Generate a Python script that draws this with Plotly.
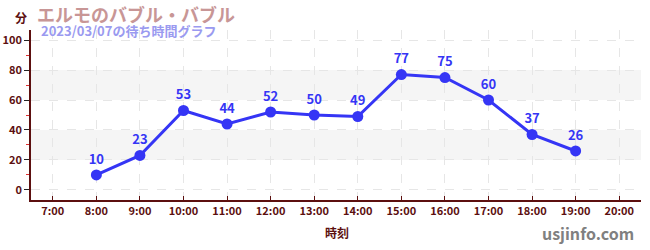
import plotly.graph_objects as go

hours = [8, 9, 10, 11, 12, 13, 14, 15, 16, 17, 18, 19]
waits = [10, 23, 53, 44, 52, 50, 49, 77, 75, 60, 37, 26]
tick_hours = list(range(7, 21))
tick_labels = [f"{h}:00" for h in tick_hours]
title_text = "エルモのバブル・バブル"
subtitle_text = "2023/03/07の待ち時間グラフ"
bands = [(20, 40), (60, 80)]

FONT = "Noto Sans CJK JP"
AXC = "#5c0f0f"
BLUE = "#3535f5"
PW, PH = 610, 170

fig = go.Figure()
fig.add_trace(go.Scatter(
    x=hours, y=waits, mode="lines+markers+text",
    text=[str(v) for v in waits], textposition="top center",
    textfont=dict(family=FONT, size=13, color=BLUE, weight="bold"),
    line=dict(color=BLUE, width=3),
    marker=dict(color=BLUE, size=11),
    cliponaxis=False, hoverinfo="skip",
))

shapes = []
for lo, hi in bands:
    shapes.append(dict(type="rect", xref="paper", yref="y", x0=0, x1=1, y0=lo, y1=hi,
                       fillcolor="#f5f5f5", line=dict(width=0), layer="below"))

fig.update_layout(
    template="none",
    width=650, height=250,
    margin=dict(l=31, r=9, t=30, b=50, pad=0),
    paper_bgcolor="white", plot_bgcolor="white",
    showlegend=False,
    shapes=shapes,
    font=dict(family=FONT, color=AXC),
    xaxis=dict(
        automargin=False,
        range=[6.5, 20.5], tickmode="array", tickvals=tick_hours, ticktext=tick_labels,
        showline=True, linecolor=AXC, linewidth=1.5, ticks="inside", ticklen=4, tickcolor=AXC,
        showgrid=True, gridcolor="#e6e6e6", griddash="dash", zeroline=False,
        tickfont=dict(family=FONT, size=11, color=AXC, weight="bold"),
        fixedrange=True,
    ),
    yaxis=dict(
        automargin=False,
        range=[-6.7, 106.7], tickmode="array", tickvals=[0, 20, 40, 60, 80, 100],
        showline=True, linecolor=AXC, linewidth=1.5, ticks="outside", ticklen=5, tickcolor="#222",
        showgrid=True, gridcolor="#e6e6e6", griddash="dash", zeroline=False,
        tickfont=dict(family=FONT, size=11, color=AXC, weight="bold"),
        minor=dict(tickvals=[10, 30, 50, 70, 90], ticks="outside", ticklen=3, tickcolor="#e03030", showgrid=False),
        fixedrange=True,
    ),
    annotations=[
        dict(text="分", xref="paper", yref="paper", x=-31 / PW, y=1 + 13 / PH, xanchor="left", yanchor="middle",
             xshift=13, showarrow=False, font=dict(family=FONT, size=12, color=AXC, weight="bold")),
        dict(text=title_text, xref="paper", yref="paper", x=0, y=1 + 16 / PH, xanchor="left", yanchor="middle",
             xshift=4, showarrow=False, font=dict(family=FONT, size=18, color="#c89696", weight="bold")),
        dict(text=subtitle_text, xref="paper", yref="paper", x=0, y=1 - 1 / PH, xanchor="left", yanchor="middle",
             xshift=8, showarrow=False, font=dict(family=FONT, size=13, color="#9a9af0", weight="bold")),
        dict(text="時刻", xref="paper", yref="paper", x=0.5, y=0, xanchor="center", yanchor="middle",
             xshift=1, yshift=-32, showarrow=False, font=dict(family=FONT, size=12, color=AXC, weight="bold")),
        dict(text="usjinfo.com", xref="paper", yref="paper", x=1, y=0, xanchor="right", yanchor="middle",
             xshift=-5, yshift=-33, showarrow=False, font=dict(family=FONT, size=16, color="#808080", weight="bold")),
    ],
)

fig.write_html("out.html")
